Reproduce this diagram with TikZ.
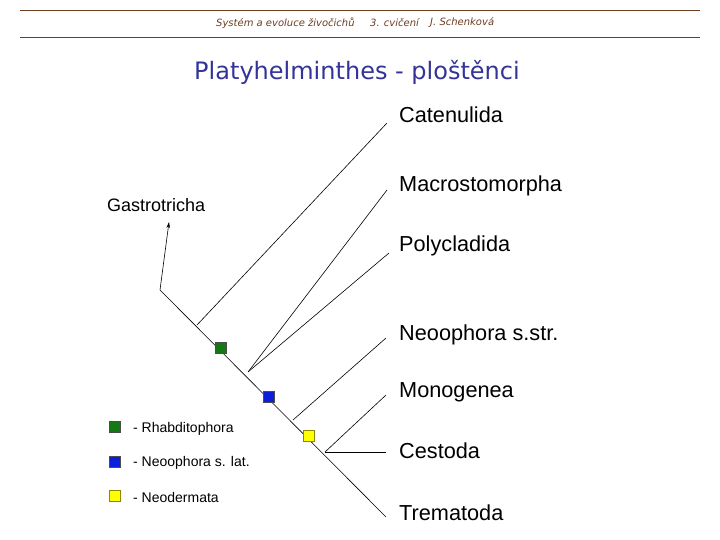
\documentclass[tikz,border=0pt]{standalone}
\usepackage{fontspec}
\setmainfont{Liberation Sans}
\newfontfamily\verdana{DejaVu Sans}
\usetikzlibrary{arrows.meta}
\definecolor{hdrbrown}{RGB}{110,60,30}
\definecolor{titleblue}{RGB}{51,51,153}
\definecolor{rhabgreen}{RGB}{20,120,20}
\definecolor{neoblue}{RGB}{10,30,220}
\definecolor{neoyellow}{RGB}{255,255,0}

\begin{document}
\begin{tikzpicture}[x=1pt,y=-1pt,
    branch/.style={line width=0.6pt},
    taxon/.style={anchor=west,inner sep=0pt,font=\fontsize{21.7}{24}\selectfont},
    marker/.style={draw=black!70,line width=0.5pt,minimum size=11pt,inner sep=0pt},
    legtext/.style={anchor=west,inner sep=0pt,font=\fontsize{14}{16}\selectfont},
    hdr/.style={hdrbrown,anchor=west,inner sep=0pt,font=\verdana\itshape\fontsize{10}{12}\selectfont}]
  \useasboundingbox (0,0) rectangle (720,540);
  % header
  \draw[hdrbrown,line width=0.7pt] (20,10) -- (700,10);
  \draw[hdrbrown,line width=0.7pt] (20,37) -- (700,37);
  \node[hdr] (hdra) at (216,23) {Systém a evoluce živočichů};
  \node[hdr] (hdrb) at (370,23) {3. cvičení};
  \node[hdr] (hdrc) at (430,23) {J. Schenková};
  % title
  \node[titleblue,font=\verdana\fontsize{24}{28}\selectfont] (title) at (357,72) {Platyhelminthes - ploštěnci};

  % tree
  \coordinate (root) at (160,290);
  \coordinate (jcat) at (197,325);
  \coordinate (jmac) at (248,372);
  \coordinate (jneo) at (293,420);
  \coordinate (jmon) at (325,452);
  \coordinate (ecat) at (387,123);
  \coordinate (emac) at (387,190);
  \coordinate (epol) at (389,253);
  \coordinate (eneo) at (386,338);
  \coordinate (emon) at (386,395);
  \coordinate (eces) at (386,452);
  \coordinate (etre) at (386,517);

  \node[taxon] (cat) at (399,115) {Catenulida};
  \node[taxon] (mac) at (399,186) {Macrostomorpha};
  \node[taxon] (pol) at (399,246) {Polycladida};
  \node[taxon] (neo) at (399,335) {Neoophora s.str.};
  \node[taxon] (mon) at (399,392) {Monogenea};
  \node[taxon] (ces) at (399,451) {Cestoda};
  \node[taxon] (tre) at (399,513) {Trematoda};
  \node[taxon,font=\fontsize{18}{21}\selectfont] (gas) at (107,205) {Gastrotricha};
  \coordinate (gasp) at (169,222);

  \draw[branch] (root) -- (etre);
  \draw[branch,-{Stealth[length=6pt,width=3.5pt]}] (root) -- (gasp);
  \draw[branch] (jcat) -- (ecat);
  \draw[branch] (jmac) -- (emac);
  \draw[branch] (jmac) -- (epol);
  \draw[branch] (jneo) -- (eneo);
  \draw[branch] (jmon) -- (emon);
  \draw[branch] (jmon) -- (eces);

  % apomorphies
  \node[marker,fill=rhabgreen] (sqg) at (221,348) {};
  \node[marker,fill=neoblue] (sqb) at (269,397) {};
  \node[marker,fill=neoyellow,draw=olive] (sqy) at (309,436) {};

  % legend
  \node[marker,fill=rhabgreen] (lg) at (115,427) {};
  \node[marker,fill=neoblue] (lb) at (115,462) {};
  \node[marker,fill=neoyellow,draw=olive] (ly) at (115,496) {};
  \node[legtext] (tg) at (133,429) {- Rhabditophora};
  \node[legtext] (tb) at (133,463) {- Neoophora s. lat.};
  \node[legtext] (ty) at (133,497) {- Neodermata};
\end{tikzpicture}
\end{document}
